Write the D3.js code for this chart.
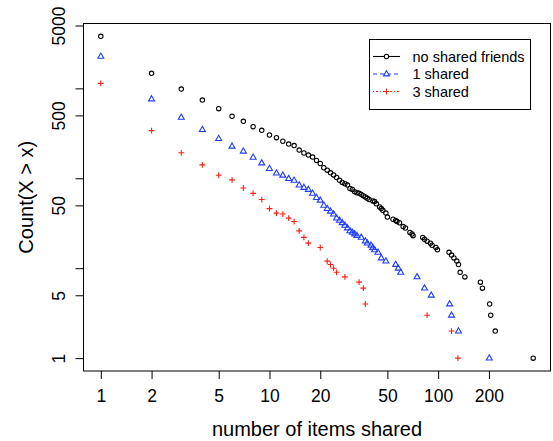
<!DOCTYPE html>
<html><head><meta charset="utf-8">
<script src="https://cdn.jsdelivr.net/npm/d3@7"></script>
<style>
body{margin:0;background:#fff}
svg{display:block}
text{font-family:"Liberation Sans",Arial,Helvetica,sans-serif;fill:#000}
</style>
</head><body>
<svg id="chart" width="553" height="441"></svg>
<script>
// ---- data ----
const seriesNames = ["no shared friends", "1 shared", "3 shared"];

const noSharedX = [1,2,3,4,5,6,7,8,9,10,11,12,13,14,15,16,17,18,19,20,21,22,23,24,25,26,27,28,29,30,31,32,33,34,35,36,37,38,39,41,42,43,45,46,47,49,50,54,56,57,59,62,64,68,70,71,81,83,86,90,92,97,99,116,120,124,129,132,135,144,178,183,202,205,218,366];
const noSharedCount = [3784,1468,982,741,594,489,430,375,341,303,283,258,240,231,206,191,181,172,158,146,131,123,115,109,102,95,90,87,84,77,75,71,69,68,66,64,62,60,58,56,55,52,48,46,44,41,37,35,34,33,32,29,28,25,24,23,22,21,20,19,18,17,16,15,14,13,12,11,9,8,7,6,4,3,2,1];

const oneSharedX = [1,2,3,4,5,6,7,8,9,10,11,12,13,14,15,16,17,18,19,20,21,22,23,24,25,26,27,28,29,30,31,32,33,35,37,38,40,41,42,44,46,49,56,58,60,75,83,91,117,120,132,201];
const oneSharedCount = [2268,761,476,348,276,227,200,171,148,128,114,108,99,95,84,79,75,68,61,57,50,46,43,40,36,34,32,30,28,26,25,24,23,22,20,19,18,17,16,15,13,12,11,10,9,8,6,5,4,3,2,1];

const threeSharedX = [1,2,3,4,5,6,7,8,9,10,11,12,13,14,15,16,17,20,22,23,24,25,28,34,36,37,86,120,131];
const threeSharedCount = [1136,339,192,141,108,96,78,68,58,46,41,40,36,33,26,22,19,17,12,11,10,9,8,7,6,4,3,2,1];

const seriesColors = ["#000000", "#1f3dff", "#ff1f14"];
const seriesDash = [null, "4,3", "1,2,2,2"];

const xTickValues = [1,2,5,10,20,50,100,200];
const xTickLabels = ["1","2","5","10","20","50","100","200"];
const yTickValues = [1,5,10,50,100,500,1000,5000];
const yTickLabels = ["1","5","","50","","500","","5000"];

const xTitle = "number of items shared";
const yTitle = "Count(X > x)";

// ---- layout ----
const svg = d3.select("#chart");
const pLeft = 83.5, pRight = 550.5, pTop = 23.5, pBottom = 371;

const allX = noSharedX.concat(oneSharedX, threeSharedX);
const allY = noSharedCount.concat(oneSharedCount, threeSharedCount);
function logDomain(vals) {
  const a = Math.log10(d3.min(vals)), b = Math.log10(d3.max(vals));
  const e = (b - a) * 0.04;
  return [Math.pow(10, a - e), Math.pow(10, b + e)];
}
const x = d3.scaleLog().domain(logDomain(allX)).range([pLeft, pRight]);
const y = d3.scaleLog().domain(logDomain(allY)).range([pBottom, pTop]);

// ---- axes ----
const xAxis = svg.append("g").attr("transform", `translate(0,${pBottom})`)
  .call(d3.axisBottom(x).tickValues(xTickValues)
    .tickFormat((d, i) => xTickLabels[i]).tickSize(8).tickSizeOuter(0));
xAxis.select(".domain").remove();
xAxis.selectAll("line").attr("stroke", "#000");
xAxis.selectAll("text").attr("y", 31).attr("dy", null)
  .style("font-size", "17.5px").attr("font-family", null);

const yAxis = svg.append("g").attr("transform", `translate(${pLeft},0)`)
  .call(d3.axisLeft(y).tickValues(yTickValues)
    .tickFormat((d, i) => yTickLabels[i]).tickSize(8).tickSizeOuter(0));
yAxis.select(".domain").remove();
yAxis.selectAll("line").attr("stroke", "#000");
yAxis.selectAll("text").attr("x", 0).attr("y", -18.5).attr("dy", null)
  .attr("transform", "rotate(-90)").attr("text-anchor", "middle")
  .style("font-size", "17.5px").attr("font-family", null);

// box
svg.append("rect").attr("x", pLeft).attr("y", pTop)
  .attr("width", pRight - pLeft).attr("height", pBottom - pTop)
  .attr("fill", "none").attr("stroke", "#000").attr("stroke-width", 1);

// titles
svg.append("text").attr("x", (pLeft + pRight) / 2).attr("y", 436)
  .attr("text-anchor", "middle").style("font-size", "20px").text(xTitle);
svg.append("text").attr("transform", `translate(33,${(pTop + pBottom) / 2}) rotate(-90)`)
  .attr("text-anchor", "middle").style("font-size", "20px").text(yTitle);

// ---- marks ----
const shapes = [
  g => g.append("circle").attr("r", 2.2).attr("fill", "none"),
  g => g.append("path").attr("d", "M0,-3.3L3,1.9L-3,1.9Z").attr("fill", "none"),
  g => g.append("path").attr("d", "M-2.9,0H2.9M0,-2.9V2.9").attr("fill", "none")
];
const seriesData = [
  noSharedX.map((v, i) => ({x: v, y: noSharedCount[i]})),
  oneSharedX.map((v, i) => ({x: v, y: oneSharedCount[i]})),
  threeSharedX.map((v, i) => ({x: v, y: threeSharedCount[i]}))
];
const plot = svg.append("g");
seriesData.forEach((data, s) => {
  const g = plot.append("g").attr("stroke", seriesColors[s]).attr("stroke-width", 1.1);
  g.selectAll("g.pt").data(data).join("g").attr("class", "pt")
    .attr("transform", d => `translate(${x(d.x)},${y(d.y)})`)
    .each(function() { shapes[s](d3.select(this)); });
});

// ---- legend ----
const lg = svg.append("g");
lg.append("rect").attr("x", 369.5).attr("y", 39.5).attr("width", 161).attr("height", 70)
  .attr("fill", "#fff").attr("stroke", "#000").attr("stroke-width", 1);
const rowY = [56.5, 74, 91.5];
seriesNames.forEach((name, s) => {
  const r = lg.append("g").attr("transform", `translate(0,${rowY[s]})`);
  r.append("line").attr("x1", 373).attr("x2", 400).attr("y1", 0).attr("y2", 0)
    .attr("stroke", seriesColors[s]).attr("stroke-width", 1.1)
    .attr("stroke-dasharray", seriesDash[s]);
  const sym = r.append("g").attr("transform", "translate(386.5,0)")
    .attr("stroke", seriesColors[s]).attr("stroke-width", 1.1);
  shapes[s](sym);
  if (s < 2) sym.select("circle, path").attr("fill", "#fff");
  r.append("text").attr("x", 412.5).attr("y", 0).attr("dy", "0.36em")
    .style("font-size", "14.5px").text(name);
});
</script>
</body></html>
